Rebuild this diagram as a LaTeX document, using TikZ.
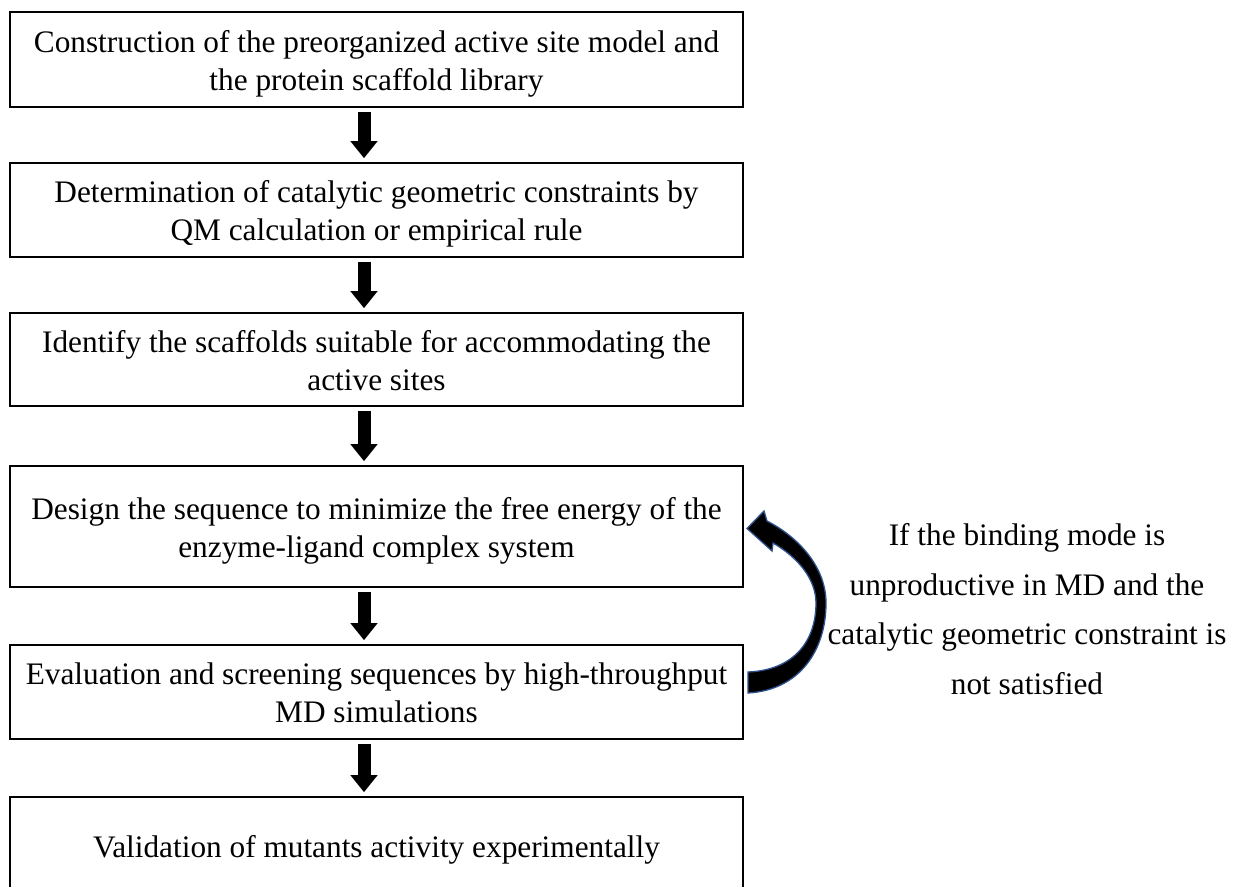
\documentclass[tikz,border=0pt]{standalone}
\usepackage{fontspec}
\setmainfont{Liberation Serif}
\usetikzlibrary{arrows.meta}
\definecolor{arrowedge}{RGB}{47,82,143}
\tikzset{
  stepbox/.style={draw=black, line width=1.6pt, fill=white, minimum width=733pt,
    align=center, inner sep=0pt, font=\fontsize{31.3}{38}\selectfont},
  twoline/.style={text height=61pt, text depth=0pt},
  oneline/.style={text height=26pt, text depth=0pt},
  blockarrow/.style={draw=black, line width=13pt, -{Triangle[length=17pt,width=26pt]}},
  notetext/.style={align=center, inner sep=0pt, font=\fontsize{31.3}{49.5}\selectfont}
}
\begin{document}
\begin{tikzpicture}[x=1pt,y=-1pt]
\useasboundingbox (0,0) rectangle (1233,886);
\fill[white] (0,0) rectangle (1233,886);
\coordinate (ax) at (364,0);

\node[stepbox, twoline, minimum height=95pt] (b1) at (376.5,59.5)
  {Construction of the preorganized active site model and\\the protein scaffold library};
\node[stepbox, twoline, minimum height=94pt] (b2) at (376.5,210)
  {Determination of catalytic geometric constraints by\\QM calculation or empirical rule};
\node[stepbox, twoline, minimum height=93pt] (b3) at (376.5,359.5)
  {Identify the scaffolds suitable for accommodating the\\active sites};
\node[stepbox, twoline, minimum height=121pt] (b4) at (376.5,526.5)
  {Design the sequence to minimize the free energy of the\\enzyme-ligand complex system};
\node[stepbox, twoline, minimum height=94pt] (b5) at (376.5,692)
  {Evaluation and screening sequences by high-throughput\\MD simulations};
\node[stepbox, oneline, minimum height=94pt] (b6) at (376.5,844)
  {Validation of mutants activity experimentally};

\draw[blockarrow] ([yshift=-4pt]b1.south -| ax) -- ([yshift=4pt]b2.north -| ax);
\draw[blockarrow] ([yshift=-4pt]b2.south -| ax) -- ([yshift=4pt]b3.north -| ax);
\draw[blockarrow] ([yshift=-4pt]b3.south -| ax) -- ([yshift=4pt]b4.north -| ax);
\draw[blockarrow] ([yshift=-4pt]b4.south -| ax) -- ([yshift=4pt]b5.north -| ax);
\draw[blockarrow] ([yshift=-4pt]b5.south -| ax) -- ([yshift=4pt]b6.north -| ax);

% curved feedback arrow
\filldraw[fill=black, draw=arrowedge, line width=1.3pt, line join=miter]
  (748,693) .. controls (800,690) and (826,650) .. (826,603)
  .. controls (826,568) and (800,538) .. (767,521)
  -- (764,511) -- (747,528.5) -- (772,551) -- (773,543)
  .. controls (799,558) and (816,580) .. (816,603)
  .. controls (816,640) and (795,670) .. (748,672) -- cycle;

\node[notetext, anchor=north] (note) at (1027,523.6)
  {If the binding mode is\\unproductive in MD and the\\catalytic geometric constraint is\\not satisfied};
\end{tikzpicture}
\end{document}
